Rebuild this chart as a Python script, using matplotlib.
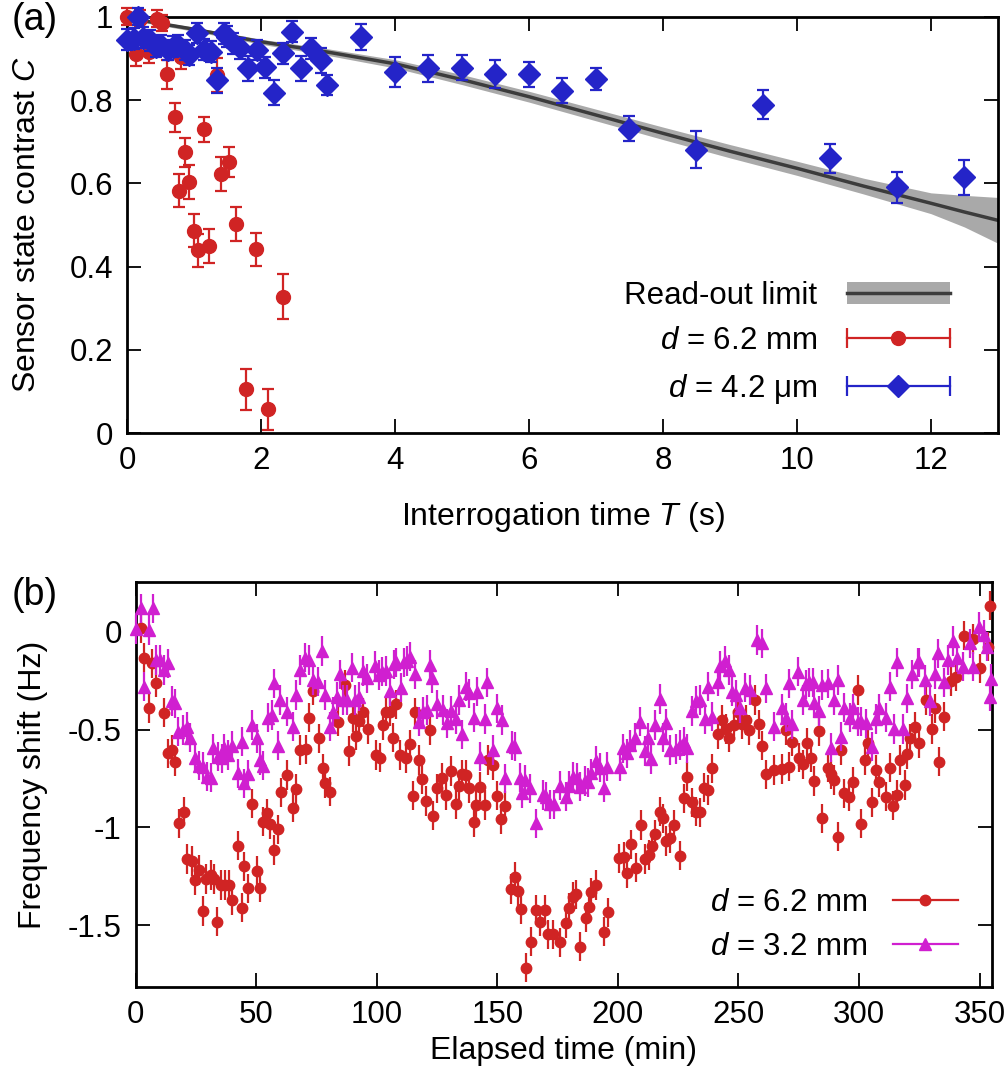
import matplotlib
matplotlib.use("Agg")
import matplotlib.pyplot as plt
from matplotlib.lines import Line2D
from matplotlib.patches import Patch
from matplotlib.legend_handler import HandlerLine2D, HandlerTuple

plt.rcParams["font.family"] = ["Liberation Sans", "DejaVu Sans"]
plt.rcParams["mathtext.fontset"] = "custom"
plt.rcParams["mathtext.rm"] = "Liberation Sans"
plt.rcParams["mathtext.it"] = "Liberation Sans:italic"
plt.rcParams["axes.unicode_minus"] = False

RED = "#d02424"
BLUE = "#2424c8"
MAG = "#d01fd0"

# ---- panel (a): contrast vs interrogation time ----
red_T = [0.0, 0.2, 0.45, 0.52, 0.13, 0.33, 0.81, 0.59, 0.71, 0.77, 0.87, 0.93,
         1.0, 1.06, 1.15, 1.22, 1.34, 1.41, 1.52, 1.63, 1.77, 1.93, 2.11, 2.33]
red_C = [1.0, 0.995, 0.995, 0.985, 0.911, 0.915, 0.904, 0.862, 0.758, 0.582, 0.674, 0.603,
         0.486, 0.439, 0.73, 0.449, 0.86, 0.622, 0.651, 0.502, 0.105, 0.441, 0.057, 0.327]
red_err = [0.02, 0.02, 0.02, 0.02, 0.03, 0.025, 0.03, 0.035, 0.035, 0.04, 0.035, 0.04,
           0.04, 0.04, 0.03, 0.04, 0.04, 0.04, 0.035, 0.04, 0.05, 0.04, 0.05, 0.054]

blue_T = [0.0, 0.17, 0.11, 0.24, 0.34, 0.44, 0.51, 0.61, 0.68, 0.76, 0.86, 0.93, 1.05,
          1.15, 1.25, 1.35, 1.45, 1.5, 1.58, 1.68, 1.81, 1.94, 2.06, 2.19, 2.33, 2.46,
          2.6, 2.74, 2.89, 2.99, 3.5, 4.0, 4.5, 5.0, 5.5, 6.0, 6.5, 7.0, 7.5, 8.5,
          9.5, 10.5, 11.5, 12.5]
blue_C = [0.945, 1.0, 0.947, 0.95, 0.943, 0.928, 0.932, 0.92, 0.928, 0.932, 0.92, 0.908,
          0.961, 0.921, 0.916, 0.848, 0.96, 0.952, 0.936, 0.924, 0.876, 0.92, 0.879, 0.817,
          0.912, 0.964, 0.876, 0.924, 0.896, 0.836, 0.951, 0.868, 0.876, 0.878, 0.862,
          0.862, 0.822, 0.85, 0.731, 0.681, 0.789, 0.66, 0.59, 0.614]
blue_err = [0.025, 0.02, 0.025, 0.025, 0.025, 0.025, 0.025, 0.025, 0.025, 0.025, 0.025,
            0.025, 0.025, 0.025, 0.025, 0.03, 0.025, 0.025, 0.025, 0.025, 0.03, 0.025,
            0.025, 0.03, 0.025, 0.025, 0.03, 0.025, 0.03, 0.025, 0.032, 0.036, 0.033,
            0.03, 0.033, 0.03, 0.03, 0.027, 0.03, 0.044, 0.035, 0.035, 0.038, 0.041]

limit_T = [0, 1, 2, 3, 4, 5, 6, 7, 8, 9, 10, 11, 12, 12.5, 13]
limit_C = [0.997, 0.97, 0.94, 0.915, 0.887, 0.849, 0.808, 0.764, 0.72, 0.677, 0.636,
           0.593, 0.552, 0.531, 0.511]
limit_lo = [0.993, 0.965, 0.934, 0.907, 0.877, 0.837, 0.795, 0.75, 0.705, 0.661, 0.619,
            0.574, 0.527, 0.495, 0.456]
limit_hi = [1.0, 0.975, 0.946, 0.923, 0.897, 0.861, 0.821, 0.778, 0.735, 0.693, 0.653,
            0.612, 0.577, 0.571, 0.566]

# ---- panel (b): frequency shift vs elapsed time ----
red_t = [2.3, 3.7, 5.6, 7.0, 8.6, 11.9, 13.3, 15.0, 16.4, 18.2, 20.1, 21.3, 23.3, 24.7,
         26.3, 28.0, 29.4, 31.3, 32.4, 33.6, 35.4, 37.1, 38.7, 39.8, 42.6, 44.0, 45.1,
         46.8, 48.1, 50.5, 51.7, 52.7, 54.4, 55.9, 57.3, 59.0, 60.3, 62.9, 65.3, 66.6,
         68.4, 70.5, 72.0, 73.7, 76.0, 77.6, 78.5, 80.6, 84.1, 86.8, 88.6, 90.0, 91.4,
         92.7, 94.4, 96.5, 99.6, 101.3, 102.7, 103.8, 105.5, 106.8, 108.2, 109.6, 112.1,
         113.8, 115.1, 115.9, 117.6, 118.9, 120.6, 122.0, 123.4, 125.1, 127.0, 128.9,
         130.9, 132.8, 134.2, 135.5, 137.2, 138.3, 140.3, 141.3, 143.0, 144.8, 146.1,
         148.3, 149.9, 151.7, 153.3, 155.9, 157.2, 158.8, 160.0, 161.8, 164.2, 166.2,
         167.9, 169.7, 171.0, 173.1, 176.2, 178.4, 179.8, 181.4, 182.8, 184.2, 186.7,
         188.1, 189.0, 191.1, 194.1, 195.9, 200.5, 202.4, 203.8, 205.6, 207.4, 209.6,
         211.1, 212.9, 214.2, 215.3, 217.3, 218.7, 220.1, 221.5, 223.5, 225.9, 227.3,
         228.7, 230.9, 232.5, 234.2, 235.6, 237.4, 239.2, 241.5, 243.3, 244.9, 246.1,
         248.0, 249.8, 251.6, 253.3, 254.6, 256.8, 258.5, 259.9, 261.3, 264.8, 268.0,
         269.6, 270.8, 272.4, 275.2, 276.9, 278.3, 280.1, 281.5, 283.3, 284.7, 287.0,
         288.4, 289.8, 291.2, 292.6, 294.0, 295.8, 297.5, 299.6, 301.0, 302.4, 303.8,
         305.6, 307.0, 308.4, 311.1, 312.8, 314.2, 315.9, 317.0, 319.1, 320.1, 321.2,
         323.3, 325.1, 327.9, 330.2, 331.6, 333.0, 335.1, 338.2, 340.4, 343.5, 347.4,
         350.1, 353.6, 354.5]
red_f = [0.017, -0.133, -0.392, -0.162, -0.26, -0.414, -0.622, -0.605, -0.665, -0.98,
         -0.92, -1.162, -1.172, -1.27, -1.218, -1.428, -1.265, -1.244, -1.265, -1.483,
         -1.295, -1.295, -1.295, -1.372, -1.094, -1.411, -1.2, -1.312, -0.879, -1.224,
         -1.309, -0.971, -0.929, -0.985, -1.116, -1.01, -0.821, -0.733, -0.9, -0.804,
         -0.605, -0.602, -0.44, -0.302, -0.545, -0.699, -0.775, -0.818, -0.46, -0.273,
         -0.61, -0.44, -0.532, -0.457, -0.412, -0.498, -0.63, -0.644, -0.477, -0.412,
         -0.409, -0.542, -0.372, -0.63, -0.648, -0.576, -0.838, -0.412, -0.656, -0.753,
         -0.866, -0.503, -0.941, -0.801, -0.746, -0.835, -0.712, -0.883, -0.787, -0.729,
         -0.733, -0.801, -0.975, -0.886, -0.792, -0.886, -0.656, -0.682, -0.838, -0.958,
         -0.89, -1.316, -1.253, -1.326, -1.418, -1.718, -1.585, -1.423, -1.483, -1.423,
         -1.547, -1.547, -1.588, -1.491, -1.411, -1.355, -1.343, -1.61, -1.462, -1.406,
         -1.332, -1.295, -1.534, -1.435, -1.159, -1.15, -1.235, -1.087, -1.206, -0.988,
         -1.162, -1.142, -1.094, -1.036, -0.92, -0.954, -1.07, -1.057, -0.988, -1.145,
         -0.852, -0.741, -0.873, -0.92, -0.924, -0.797, -0.809, -0.699, -0.525, -0.452,
         -0.498, -0.542, -0.477, -0.412, -0.474, -0.452, -0.503, -0.349, -0.474, -0.583,
         -0.729, -0.707, -0.702, -0.503, -0.69, -0.562, -0.644, -0.678, -0.569, -0.644,
         -0.763, -0.508, -0.954, -0.695, -0.729, -0.758, -1.048, -0.605, -0.827, -0.844,
         -0.767, -0.298, -0.982, -0.656, -0.569, -0.873, -0.707, -0.77, -0.844, -0.695,
         -0.89, -0.835, -0.656, -0.784, -0.627, -0.545, -0.486, -0.571, -0.349, -0.498,
         -0.392, -0.664, -0.435, -0.252, -0.23, -0.02, -0.037, -0.187, -0.077, 0.133]

mag_t = [0.3, 2.3, 3.7, 5.6, 7.4, 8.6, 10.0, 11.9, 13.6, 15.0, 16.4, 17.7, 19.8, 21.3,
         22.6, 24.7, 26.3, 28.0, 29.6, 31.3, 32.3, 34.0, 35.7, 36.8, 38.5, 40.1, 42.3,
         44.0, 45.1, 46.8, 48.1, 50.5, 51.7, 53.0, 54.8, 56.4, 57.3, 59.0, 60.0, 63.0,
         65.4, 66.6, 68.4, 70.2, 72.0, 73.7, 75.8, 77.4, 78.5, 80.6, 81.9, 83.4, 84.7,
         85.9, 87.5, 89.6, 91.0, 92.8, 94.4, 96.1, 99.2, 100.9, 102.4, 103.8, 105.4,
         107.1, 108.2, 109.9, 111.3, 112.7, 114.0, 115.8, 117.6, 119.3, 120.9, 122.0,
         123.1, 125.1, 127.6, 129.2, 131.0, 132.8, 134.2, 135.5, 136.9, 138.3, 140.3,
         141.6, 143.0, 144.8, 145.8, 148.3, 149.7, 151.8, 153.1, 156.3, 157.3, 159.4,
         160.4, 161.4, 163.5, 166.2, 169.0, 170.4, 172.0, 173.4, 176.2, 178.4, 179.8,
         181.4, 183.1, 184.5, 186.3, 187.7, 189.0, 190.8, 192.7, 194.1, 195.5, 200.8,
         202.2, 203.8, 205.2, 207.0, 209.1, 211.1, 212.5, 213.9, 215.3, 217.3, 218.7,
         220.1, 221.8, 224.2, 225.9, 227.3, 228.7, 230.7, 232.5, 234.2, 236.0, 237.6,
         239.2, 241.5, 242.5, 244.3, 246.1, 247.5, 248.8, 250.8, 252.6, 255.0, 257.8,
         259.6, 261.6, 264.8, 268.2, 269.6, 270.8, 272.4, 274.9, 276.6, 278.0, 279.4,
         281.1, 281.5, 283.6, 284.7, 287.0, 288.4, 289.8, 291.2, 292.6, 294.0, 296.1,
         297.5, 299.6, 301.0, 303.1, 305.6, 307.0, 308.4, 311.1, 312.8, 314.5, 315.9,
         318.4, 320.1, 321.9, 324.3, 325.1, 327.4, 329.5, 331.6, 332.6, 335.1, 336.8,
         339.0, 340.7, 343.2, 346.0, 347.4, 349.7, 351.8, 352.9, 354.3, 354.6]
mag_f = [0.012, 0.119, -0.281, 0.009, 0.119, -0.145, -0.145, -0.196, -0.162, -0.354,
         -0.366, -0.511, -0.503, -0.486, -0.542, -0.644, -0.685, -0.69, -0.741, -0.746,
         -0.596, -0.639, -0.648, -0.596, -0.63, -0.583, -0.724, -0.562, -0.775, -0.729,
         -0.477, -0.545, -0.656, -0.685, -0.44, -0.426, -0.264, -0.583, -0.349, -0.409,
         -0.486, -0.324, -0.196, -0.133, -0.145, -0.247, -0.256, -0.099, -0.324, -0.486,
         -0.409, -0.332, -0.218, -0.349, -0.349, -0.184, -0.349, -0.332, -0.201, -0.239,
         -0.174, -0.222, -0.204, -0.201, -0.303, -0.167, -0.157, -0.286, -0.157, -0.15,
         -0.128, -0.218, -0.46, -0.409, -0.4, -0.17, -0.239, -0.372, -0.4, -0.469,
         -0.406, -0.446, -0.349, -0.525, -0.281, -0.315, -0.44, -0.307, -0.639, -0.446,
         -0.259, -0.605, -0.392, -0.452, -0.75, -0.583, -0.588, -0.746, -0.827, -0.758,
         -0.801, -0.98, -0.835, -0.844, -0.883, -0.883, -0.787, -0.844, -0.787, -0.741,
         -0.746, -0.792, -0.763, -0.77, -0.724, -0.661, -0.695, -0.797, -0.69, -0.69,
         -0.596, -0.622, -0.579, -0.542, -0.46, -0.61, -0.542, -0.651, -0.477, -0.344,
         -0.542, -0.469, -0.605, -0.6, -0.579, -0.562, -0.596, -0.406, -0.354, -0.349,
         -0.446, -0.281, -0.435, -0.256, -0.174, -0.15, -0.196, -0.307, -0.324, -0.392,
         -0.286, -0.298, -0.043, -0.06, -0.29, -0.486, -0.392, -0.44, -0.264, -0.474,
         -0.204, -0.349, -0.269, -0.259, -0.259, -0.366, -0.406, -0.273, -0.264, -0.593,
         -0.349, -0.247, -0.537, -0.389, -0.44, -0.392, -0.46, -0.46, -0.469, -0.588,
         -0.446, -0.392, -0.44, -0.281, -0.498, -0.157, -0.498, -0.341, -0.218, -0.157,
         -0.157, -0.247, -0.354, -0.218, -0.111, -0.259, -0.145, -0.048, -0.133, -0.179,
         -0.06, -0.179, 0.026, -0.017, -0.077, -0.332, -0.242]
freq_err = 0.075

FS = 22.5
LFS = 23
fig = plt.figure(figsize=(10.07, 10.8), dpi=100)
ax1 = fig.add_axes([0.1261, 0.599, 0.8649, 0.3855])
ax2 = fig.add_axes([0.1346, 0.0858, 0.8501, 0.375])

for ax in (ax1, ax2):
    for sp in ax.spines.values():
        sp.set_linewidth(2)
    ax.tick_params(direction="in", top=True, right=True, length=10, width=1.3,
                   labelsize=FS)
    ax.tick_params(axis="y", pad=10)
    ax.tick_params(axis="x", pad=9)

# (a)
ax1.fill_between(limit_T, limit_lo, limit_hi, color="#a9a9a9", lw=0, zorder=1)
ax1.plot(limit_T, limit_C, color="#3c3c3c", lw=2.5, zorder=2)
ax1.errorbar(red_T, red_C, yerr=red_err, fmt="o", color=RED, ms=10, elinewidth=1.6,
             capsize=4, capthick=1.6, zorder=3, clip_on=False)
ax1.errorbar(blue_T, blue_C, yerr=blue_err, fmt="D", color=BLUE, ms=11, elinewidth=1.6,
             capsize=4, capthick=1.6, zorder=4, clip_on=False)
ax1.set_xlim(0, 13)
ax1.set_ylim(0, 1)
ax1.set_xticks(range(0, 13, 2))
ax1.set_yticks([0, 0.2, 0.4, 0.6, 0.8, 1])
ax1.set_yticklabels(["0", "0.2", "0.4", "0.6", "0.8", "1"])
ax1.set_xlabel("Interrogation time $T$ (s)", fontsize=LFS)
ax1.set_ylabel("Sensor state contrast $C$", fontsize=LFS)
ax1.xaxis.set_label_coords(0.5, -0.16)
ax1.yaxis.set_label_coords(-0.098, 0.5)

band_h = (Patch(facecolor="#a9a9a9", edgecolor="none"), Line2D([], [], color="#3c3c3c", lw=2.5))
red_caps = Line2D([], [], color=RED, lw=1.6, marker="|", ms=14, mew=1.6)
red_dot = Line2D([], [], color=RED, marker="o", ls="none", ms=10)
blue_caps = Line2D([], [], color=BLUE, lw=1.6, marker="|", ms=14, mew=1.6)
blue_dot = Line2D([], [], color=BLUE, marker="D", ls="none", ms=11)
hmap = {red_caps: HandlerLine2D(numpoints=2, marker_pad=0),
        blue_caps: HandlerLine2D(numpoints=2, marker_pad=0),
        tuple: HandlerTuple(ndivide=1)}
ax1.legend([band_h, (red_caps, red_dot), (blue_caps, blue_dot)],
           ["Read-out limit", "$d$ = 6.2 mm", "$d$ = 4.2 μm"],
           handler_map=hmap, loc="lower right", bbox_to_anchor=(0.945, 0.065),
           frameon=False, markerfirst=False, fontsize=FS, handlelength=3.3,
           handletextpad=0.95, labelspacing=0.5, borderpad=0, borderaxespad=0)

# (b)
ax2.errorbar(red_t, red_f, yerr=freq_err, fmt="o", color=RED, ms=7.5, elinewidth=1.6,
             capsize=0, zorder=3, clip_on=False)
ax2.errorbar(mag_t, mag_f, yerr=freq_err, fmt="^", color=MAG, ms=9, elinewidth=1.6,
             capsize=0, zorder=4, clip_on=False)
ax2.set_xlim(0, 355)
ax2.set_ylim(-1.818, 0.2525)
ax2.set_xticks(range(0, 351, 50))
ax2.set_yticks([0, -0.5, -1, -1.5])
ax2.set_yticklabels(["0", "-0.5", "-1", "-1.5"])
ax2.set_xlabel("Elapsed time (min)", fontsize=LFS)
ax2.set_ylabel("Frequency shift (Hz)", fontsize=LFS)
ax2.xaxis.set_label_coords(0.5, -0.12)
ax2.yaxis.set_label_coords(-0.102, 0.5)
ax2.legend([Line2D([], [], color=RED, lw=1.6, marker="o", ms=7.5),
            Line2D([], [], color=MAG, lw=1.6, marker="^", ms=9)],
           ["$d$ = 6.2 mm", "$d$ = 3.2 mm"], numpoints=1,
           loc="lower right", bbox_to_anchor=(0.961, 0.062), frameon=False,
           markerfirst=False, fontsize=FS, handlelength=2.1, handletextpad=0.8,
           labelspacing=0.47, borderpad=0, borderaxespad=0)

fig.text(0.012, 0.998, "(a)", fontsize=27, va="top")
fig.text(0.012, 0.466, "(b)", fontsize=27, va="top")

fig.savefig("out.png", dpi=100)
